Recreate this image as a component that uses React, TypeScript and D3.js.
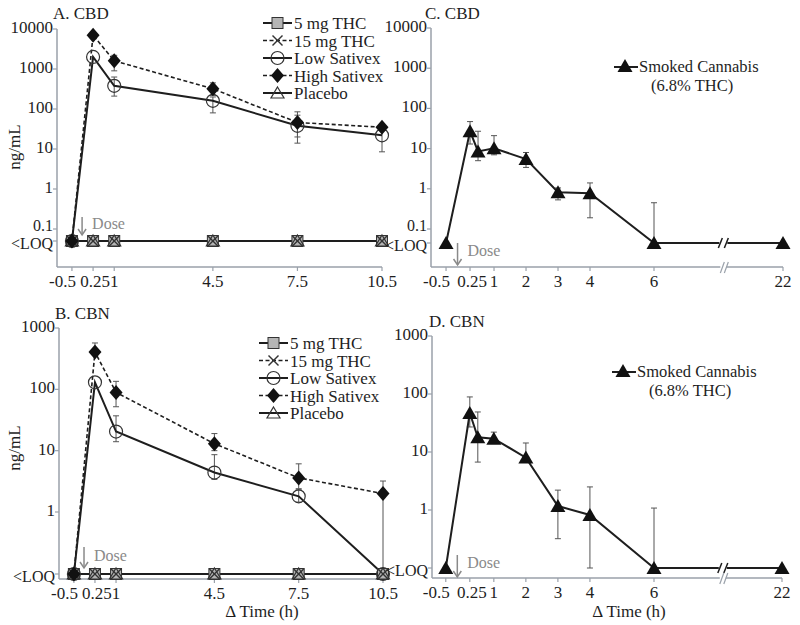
import React from "react";
import * as d3 from "d3";

// ---------- DATA (0 = <LOQ) ----------
const timesAB = [-0.5, 0.25, 1, 4.5, 7.5, 10.5];
const timesCD = [-0.5, 0.25, 0.5, 1, 2, 3, 4, 6, 22];
const ticksAB = [-0.5, 0.25, 1, 4.5, 7.5, 10.5];
const ticksCD = [-0.5, 0.25, 1, 2, 3, 4, 6, 22];
const yTicksCBD = [0.1, 1, 10, 100, 1000, 10000];
const yTicksCBN = [1, 10, 100, 1000];
const legendLabels = ["5 mg THC", "15 mg THC", "Low Sativex", "High Sativex", "Placebo"];
const smokedLabel = ["Smoked Cannabis", "(6.8% THC)"];

const thc5 = [0, 0, 0, 0, 0, 0];
const thc15 = [0, 0, 0, 0, 0, 0];
const placebo = [0, 0, 0, 0, 0, 0];

const cbdLowSativex = [0, 2000, 380, 160, 38, 22];
const cbdLowSativexLo = [null, null, 210, 80, 14, 8.5];
const cbdLowSativexHi = [null, null, 630, 200, 70, 30];
const cbdHighSativex = [0, 7000, 1600, 320, 46, 35];
const cbdHighSativexLo = [null, null, 900, 220, 20, null];
const cbdHighSativexHi = [null, null, 2200, 450, 85, null];

const cbnLowSativex = [0, 130, 20.5, 4.4, 1.8, 0];
const cbnLowSativexLo = [null, null, 14, 3.4, 1.45, null];
const cbnLowSativexHi = [null, null, 37, 8.6, 2.3, null];
const cbnHighSativex = [0, 405, 89, 13, 3.6, 2.0];
const cbnHighSativexLo = [null, null, 52, 10, 2.4, 0];
const cbnHighSativexHi = [null, 570, 135, 19, 6.1, 3.2];

const cbdSmoked = [0, 27, 8.5, 10.2, 5.5, 0.82, 0.78, 0, 0];
const cbdSmokedLo = [null, 13, 5, 7, 3.4, 0.53, 0.19, 0, null];
const cbdSmokedHi = [null, 47, 27, 21, 8, 1.05, 1.4, 0.45, null];

const cbnSmoked = [0, 47, 18, 17, 8, 1.17, 0.82, 0, 0];
const cbnSmokedLo = [null, 27, 6.7, 14, null, 0.32, 0, 0, null];
const cbnSmokedHi = [null, 89, 49, 22, 14.3, 2.2, 2.5, 1.08, null];

const doseTime = -0.14;

// ---------- STYLES ----------
const FONT = "'Liberation Serif', 'Times New Roman', serif";
const AXIS = "#9aa1aa";
const INK = "#1e1e1e";
const GRAY = "#8a8a8a";

type MarkerKind = "square" | "x" | "circle" | "diamond" | "tri" | "triFill";

function Marker({ kind, x, y }: { kind: MarkerKind; x: number; y: number }) {
  switch (kind) {
    case "square":
      return <rect x={x - 5.5} y={y - 5.5} width={11} height={11} fill="#b5b5b5" stroke="#333" strokeWidth={1} />;
    case "x":
      return (
        <g stroke="#333" strokeWidth={1.4}>
          <line x1={x - 5} y1={y - 5} x2={x + 5} y2={y + 5} />
          <line x1={x - 5} y1={y + 5} x2={x + 5} y2={y - 5} />
        </g>
      );
    case "circle":
      return <circle cx={x} cy={y} r={6.5} fill="none" stroke="#333" strokeWidth={1.2} />;
    case "diamond":
      return <path d={`M${x},${y - 7.5}L${x + 6.5},${y}L${x},${y + 7.5}L${x - 6.5},${y}Z`} fill="#111" />;
    case "tri":
      return <path d={`M${x},${y - 6}L${x + 6.5},${y + 5}L${x - 6.5},${y + 5}Z`} fill="none" stroke="#333" strokeWidth={1.2} />;
    case "triFill":
      return <path d={`M${x},${y - 7}L${x + 7.5},${y + 6}L${x - 7.5},${y + 6}Z`} fill="#111" />;
  }
  return null;
}

type Series = {
  values: number[];
  lo?: (number | null)[];
  hi?: (number | null)[];
  marker: MarkerKind;
  dashed: boolean;
  width: number;
};

type PanelProps = {
  title: string;
  titleX: number;
  titleY: number;
  times: number[];
  series: Series[];
  xDomain: number[];
  xRange: number[];
  xTicks: number[];
  yDomain: [number, number];
  yRange: [number, number];
  yTicks: number[];
  loqY: number;
  axisY: number;
  axisTop: number;
  dose: { y1: number; y2: number; textDy: number };
  breakAt?: number;
  yLabel?: { x: number; y: number };
  xLabel?: { x: number; y: number };
  legend?: React.ReactNode;
  drawOrder: number[];
};

function fmt(v: number) {
  return String(v);
}

// crowded first tick labels: shift to avoid collisions, like the reference
function tickAnchor(t: number): { anchor: "start" | "middle" | "end"; dx: number } {
  if (t === -0.5) return { anchor: "end", dx: 4 };
  if (t === 0.25) return { anchor: "middle", dx: 2 };
  return { anchor: "middle", dx: 0 };
}

function Panel(p: PanelProps) {
  const x = d3.scaleLinear().domain(p.xDomain).range(p.xRange);
  const y = d3.scaleLog().domain(p.yDomain).range(p.yRange);
  const yv = (v: number) => (v === 0 ? p.loqY : y(v));
  const x0 = p.xRange[0];
  const x1 = p.xRange[p.xRange.length - 1];
  const line = d3
    .line<number>()
    .x((_, i) => x(p.times[i]))
    .y((v) => yv(v));

  return (
    <g>
      <text x={p.titleX} y={p.titleY} fontSize={17} fill={INK}>{p.title}</text>
      {/* axes */}
      <line x1={x0} y1={p.axisTop} x2={x0} y2={p.axisY} stroke={AXIS} strokeWidth={1.5} />
      <line x1={x0} y1={p.axisY} x2={x1} y2={p.axisY} stroke={AXIS} strokeWidth={1.5} />
      {p.yTicks.map((t) => {
        const crowded = Math.abs(y(t) - p.loqY) < 16;
        return (
          <g key={"yt" + t}>
            <line x1={x0 - 4} x2={x0} y1={y(t)} y2={y(t)} stroke={AXIS} strokeWidth={1.2} />
            <text x={x0 - 4} y={y(t) + (crowded ? 2 : 4)} textAnchor="end" fontSize={crowded ? 16 : 17} fill={INK}>{fmt(t)}</text>
          </g>
        );
      })}
      <line x1={x0 - 4} x2={x0} y1={p.loqY} y2={p.loqY} stroke={AXIS} strokeWidth={1.2} />
      <text x={x0 - 4} y={p.loqY + 8} textAnchor="end" fontSize={16} fill={INK}>{"<LOQ"}</text>
      {p.xTicks.map((t) => {
        const a = tickAnchor(t);
        return (
          <g key={"xt" + t}>
            <line x1={x(t)} x2={x(t)} y1={p.axisY} y2={p.axisY + 4} stroke={AXIS} strokeWidth={1.2} />
            <text x={x(t) + a.dx} y={p.axisY + 20} textAnchor={a.anchor} fontSize={17} fill={INK}>{fmt(t)}</text>
          </g>
        );
      })}
      {p.yLabel && (
        <text transform={`translate(${p.yLabel.x},${p.yLabel.y}) rotate(-90)`} textAnchor="middle" fontSize={17} fill={INK}>ng/mL</text>
      )}
      {p.xLabel && (
        <text x={p.xLabel.x} y={p.xLabel.y} textAnchor="middle" fontSize={17} fill={INK}>Δ Time (h)</text>
      )}
      {/* dose arrow */}
      <g stroke={GRAY} strokeWidth={1.5} fill="none">
        <line x1={x(doseTime)} x2={x(doseTime)} y1={p.dose.y1} y2={p.dose.y2} />
        <path d={`M${x(doseTime) - 4},${p.dose.y2 - 6}L${x(doseTime)},${p.dose.y2}L${x(doseTime) + 4},${p.dose.y2 - 6}`} />
      </g>
      <text x={x(doseTime) + 10} y={p.dose.y1 + p.dose.textDy} fontSize={16} fill={GRAY}>Dose</text>
      {/* error bars */}
      {p.series.map((s, si) =>
        s.values.map((v, i) => {
          const lo = s.lo ? s.lo[i] : null;
          const hi = s.hi ? s.hi[i] : null;
          if (lo == null && hi == null) return null;
          const cx = x(p.times[i]);
          const yl = lo == null ? yv(v) : yv(lo);
          const yh = hi == null ? yv(v) : yv(hi);
          return (
            <g key={`e${si}-${i}`} stroke="#555" strokeWidth={1}>
              <line x1={cx} x2={cx} y1={yl} y2={yh} />
              {hi != null && <line x1={cx - 3} x2={cx + 3} y1={yh} y2={yh} />}
              {lo != null && <line x1={cx - 3} x2={cx + 3} y1={yl} y2={yl} />}
            </g>
          );
        })
      )}
      {/* lines */}
      {p.drawOrder.map((si) => {
        const s = p.series[si];
        return (
          <path
            key={"l" + si}
            d={line(s.values) || ""}
            fill="none"
            stroke={INK}
            strokeWidth={s.width}
            strokeDasharray={s.dashed ? "4,2.5" : undefined}
          />
        );
      })}
      {/* break marks */}
      {p.breakAt != null && (
        <g>
          <rect x={x(p.breakAt) - 4} y={p.loqY - 6} width={8} height={12} fill="white" />
          <g stroke={INK} strokeWidth={1.5}>
            <line x1={x(p.breakAt) - 5} y1={p.loqY + 5} x2={x(p.breakAt) - 1} y2={p.loqY - 5} />
            <line x1={x(p.breakAt) + 1} y1={p.loqY + 5} x2={x(p.breakAt) + 5} y2={p.loqY - 5} />
          </g>
          <rect x={x(p.breakAt) - 3} y={p.axisY - 2} width={6} height={4} fill="white" />
          <g stroke={AXIS} strokeWidth={1.2}>
            <line x1={x(p.breakAt) - 3} y1={p.axisY + 6} x2={x(p.breakAt) + 1} y2={p.axisY - 5} />
            <line x1={x(p.breakAt) + 1} y1={p.axisY + 6} x2={x(p.breakAt) + 5} y2={p.axisY - 5} />
          </g>
        </g>
      )}
      {/* markers */}
      {p.drawOrder.map((si) => {
        const s = p.series[si];
        return (
          <g key={"m" + si}>
            {s.values.map((v, i) => (
              <Marker key={i} kind={s.marker} x={x(p.times[i])} y={yv(v)} />
            ))}
          </g>
        );
      })}
      {p.legend}
    </g>
  );
}

function TreatmentLegend({ x, y0, dy }: { x: number; y0: number; dy: number }) {
  const kinds: MarkerKind[] = ["square", "x", "circle", "diamond", "tri"];
  const dashed = [false, true, false, true, false];
  return (
    <g>
      {legendLabels.map((lab, i) => {
        const cy = y0 + i * dy;
        return (
          <g key={lab}>
            <line x1={x} x2={x + 29} y1={cy} y2={cy} stroke={INK} strokeWidth={dashed[i] ? 1.6 : 2}
              strokeDasharray={dashed[i] ? "4,2.5" : undefined} />
            <Marker kind={kinds[i]} x={x + 14.5} y={cy} />
            <text x={x + 31} y={cy + 6} fontSize={17} fill={INK}>{lab}</text>
          </g>
        );
      })}
    </g>
  );
}

function SmokedLegend({ x, y }: { x: number; y: number }) {
  return (
    <g>
      <line x1={x} x2={x + 24} y1={y} y2={y} stroke={INK} strokeWidth={2} />
      <Marker kind="triFill" x={x + 11} y={y - 1} />
      <text x={x + 25} y={y + 5} fontSize={16.5} fill={INK}>{smokedLabel[0]}</text>
      <text x={x + 37} y={y + 24} fontSize={16.5} fill={INK}>{smokedLabel[1]}</text>
    </g>
  );
}

export default function App() {
  const abSeries = (low: number[], lowLo: any[], lowHi: any[], high: number[], highLo: any[], highHi: any[]): Series[] => [
    { values: thc5, marker: "square", dashed: false, width: 2 },
    { values: thc15, marker: "x", dashed: true, width: 1.6 },
    { values: low, lo: lowLo, hi: lowHi, marker: "circle", dashed: false, width: 2 },
    { values: high, lo: highLo, hi: highHi, marker: "diamond", dashed: true, width: 1.6 },
    { values: placebo, marker: "tri", dashed: false, width: 2 },
  ];
  const order = [0, 1, 4, 2, 3];

  return (
    <svg width={800} height={625} style={{ position: "absolute", left: 0, top: 0, fontFamily: FONT, background: "white" }}>
      <rect width={800} height={625} fill="white" />
      <Panel
        title="A. CBD" titleX={53} titleY={19}
        times={timesAB}
        series={abSeries(cbdLowSativex, cbdLowSativexLo, cbdLowSativexHi, cbdHighSativex, cbdHighSativexLo, cbdHighSativexHi)}
        xDomain={[-1.03, 10.5]} xRange={[57, 382]} xTicks={ticksAB}
        yDomain={[0.1, 10000]} yRange={[229, 29]} yTicks={yTicksCBD}
        loqY={241} axisY={267} axisTop={29}
        dose={{ y1: 217, y2: 235, textDy: 12 }}
        yLabel={{ x: 20, y: 147 }}
        legend={<TreatmentLegend x={263} y0={23} dy={17.5} />}
        drawOrder={order}
      />
      <Panel
        title="B. CBN" titleX={55} titleY={319}
        times={timesAB}
        series={abSeries(cbnLowSativex, cbnLowSativexLo, cbnLowSativexHi, cbnHighSativex, cbnHighSativexLo, cbnHighSativexHi)}
        xDomain={[-1.03, 10.5]} xRange={[59, 383]} xTicks={ticksAB}
        yDomain={[1, 1000]} yRange={[512, 328]} yTicks={yTicksCBN}
        loqY={574} axisY={579} axisTop={328}
        dose={{ y1: 547, y2: 568, textDy: 14 }}
        yLabel={{ x: 20, y: 448 }}
        xLabel={{ x: 262, y: 617 }}
        legend={<TreatmentLegend x={259} y0={343} dy={17.5} />}
        drawOrder={order}
      />
      <Panel
        title="C. CBD" titleX={425} titleY={19}
        times={timesCD}
        series={[{ values: cbdSmoked, lo: cbdSmokedLo, hi: cbdSmokedHi, marker: "triFill", dashed: false, width: 2 }]}
        xDomain={[-0.97, 6, 22]} xRange={[431, 654, 783]} xTicks={ticksCD}
        yDomain={[0.1, 10000]} yRange={[229, 28]} yTicks={yTicksCBD}
        loqY={243} axisY={267} axisTop={28}
        dose={{ y1: 243, y2: 265, textDy: 13 }}
        breakAt={14.6}
        legend={<SmokedLegend x={614} y={67} />}
        drawOrder={[0]}
      />
      <Panel
        title="D. CBN" titleX={429} titleY={327}
        times={timesCD}
        series={[{ values: cbnSmoked, lo: cbnSmokedLo, hi: cbnSmokedHi, marker: "triFill", dashed: false, width: 2 }]}
        xDomain={[-0.93, 6, 22]} xRange={[432, 654, 782]} xTicks={ticksCD}
        yDomain={[1, 1000]} yRange={[510, 336]} yTicks={yTicksCBN}
        loqY={568} axisY={578} axisTop={336}
        dose={{ y1: 555, y2: 577, textDy: 13 }}
        breakAt={14.6}
        xLabel={{ x: 629, y: 617 }}
        legend={<SmokedLegend x={612} y={372} />}
        drawOrder={[0]}
      />
    </svg>
  );
}
